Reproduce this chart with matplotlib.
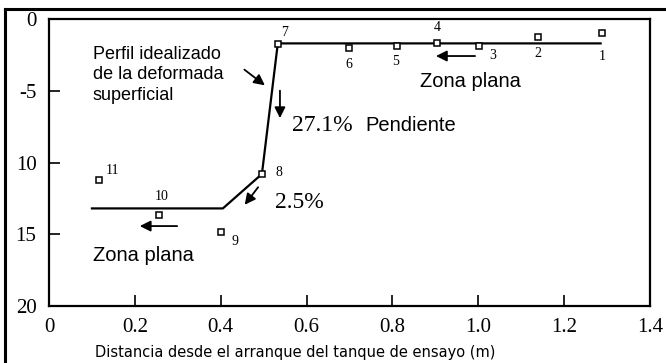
import matplotlib
matplotlib.use('Agg')
import matplotlib.pyplot as plt
from matplotlib.lines import Line2D

# puntos medidos (distancia en m, cota de la superficie)
pt_x = [1.288, 1.139, 1.002, 0.904, 0.811, 0.699, 0.533, 0.496, 0.401, 0.256, 0.116]
pt_y = [-0.98, -1.25, -1.88, -1.67, -1.88, -2.02, -1.74, -10.8, -14.84, -13.66, -11.22]
pt_lab = ['1', '2', '3', '4', '5', '6', '7', '8', '9', '10', '11']
# desplazamiento de cada numero respecto a su punto (pt)
lab_off = [(0, -17), (0, -12), (10, -7), (0, 11), (-1, -11), (0, -12), (5, 8),
           (12, 1), (10, -7), (2, 13), (10, 7)]

# perfil idealizado
perf_x = [0.10, 0.405, 0.496, 0.533, 1.285]
perf_y = [-13.2, -13.2, -10.8, -1.7, -1.7]

xticks = [0, 0.2, 0.4, 0.6, 0.8, 1.0, 1.2, 1.4]
xtick_lab = ['0', '0.2', '0.4', '0.6', '0.8', '1.0', '1.2', '1.4']
yticks = [0, -5, -10, -15, -20]
ytick_lab = ['0', '-5', '10', '15', '20']

serif = 'Liberation Serif'
sans = 'Liberation Sans'

fig = plt.figure(figsize=(6.66, 3.63), dpi=100)
ax = fig.add_axes([49/666, 1-306/363, 601/666, 287/363])

ax.plot(perf_x, perf_y, color='k', lw=1.6, zorder=2)
ax.plot(pt_x, pt_y, ls='none', marker='s', ms=5, mfc='white', mec='k', mew=1.1, zorder=3)
for x, y, t, off in zip(pt_x, pt_y, pt_lab, lab_off):
    ax.annotate(t, (x, y), xytext=off, textcoords='offset points', ha='center', va='center',
                fontsize=10, family=serif)

ax.set_xlim(0, 1.4)
ax.set_ylim(-20, 0)
ax.set_xticks(xticks)
ax.set_xticklabels(xtick_lab, family=serif, fontsize=15)
ax.set_yticks(yticks)
ax.set_yticklabels(ytick_lab, family=serif, fontsize=15)
ax.tick_params(direction='in', length=8, width=1.2, pad=9)
ax.tick_params(axis='y', pad=9)
for s in ax.spines.values():
    s.set_linewidth(1.6)

ap = dict(arrowstyle='-|>', color='k', lw=1.3, mutation_scale=16)

# textos y flechas
ax.text(0.102, -3.9, 'Perfil idealizado\nde la deformada\nsuperficial', family=sans,
        fontsize=13, va='center', ha='left', linespacing=1.3)
ax.annotate('', xy=(0.508, -4.74), xytext=(0.45, -3.41), arrowprops=ap)
ax.annotate('', xy=(0.538, -7.1), xytext=(0.538, -4.8), arrowprops=ap)
ax.text(0.566, -7.39, '27.1%', family=serif, fontsize=17, va='center', ha='left')
ax.text(0.738, -7.39, 'Pendiente', family=sans, fontsize=14.5, va='center', ha='left')
ax.annotate('', xy=(0.895, -2.58), xytext=(0.999, -2.58), arrowprops=ap)
ax.text(0.864, -4.39, 'Zona plana', family=sans, fontsize=14.5, va='center', ha='left')
ax.annotate('', xy=(0.452, -13.1), xytext=(0.491, -11.57), arrowprops=ap)
ax.text(0.526, -12.82, '2.5%', family=serif, fontsize=17, va='center', ha='left')
ax.annotate('', xy=(0.205, -14.43), xytext=(0.305, -14.43), arrowprops=ap)
ax.text(0.102, -16.45, 'Zona plana', family=sans, fontsize=14.5, va='center', ha='left')

fig.text(295/666, 1-353/363, 'Distancia desde el arranque del tanque de ensayo (m)',
         family='DejaVu Sans', fontsize=10.5, ha='center', va='center')

# marco exterior
fig.add_artist(Line2D([4.5/666, 4.5/666], [0, 1-8.5/363], transform=fig.transFigure, color='k', lw=2.2))
fig.add_artist(Line2D([4.5/666, 1], [1-8.5/363, 1-8.5/363], transform=fig.transFigure, color='k', lw=2.2))

fig.savefig('out.png', dpi=100)
